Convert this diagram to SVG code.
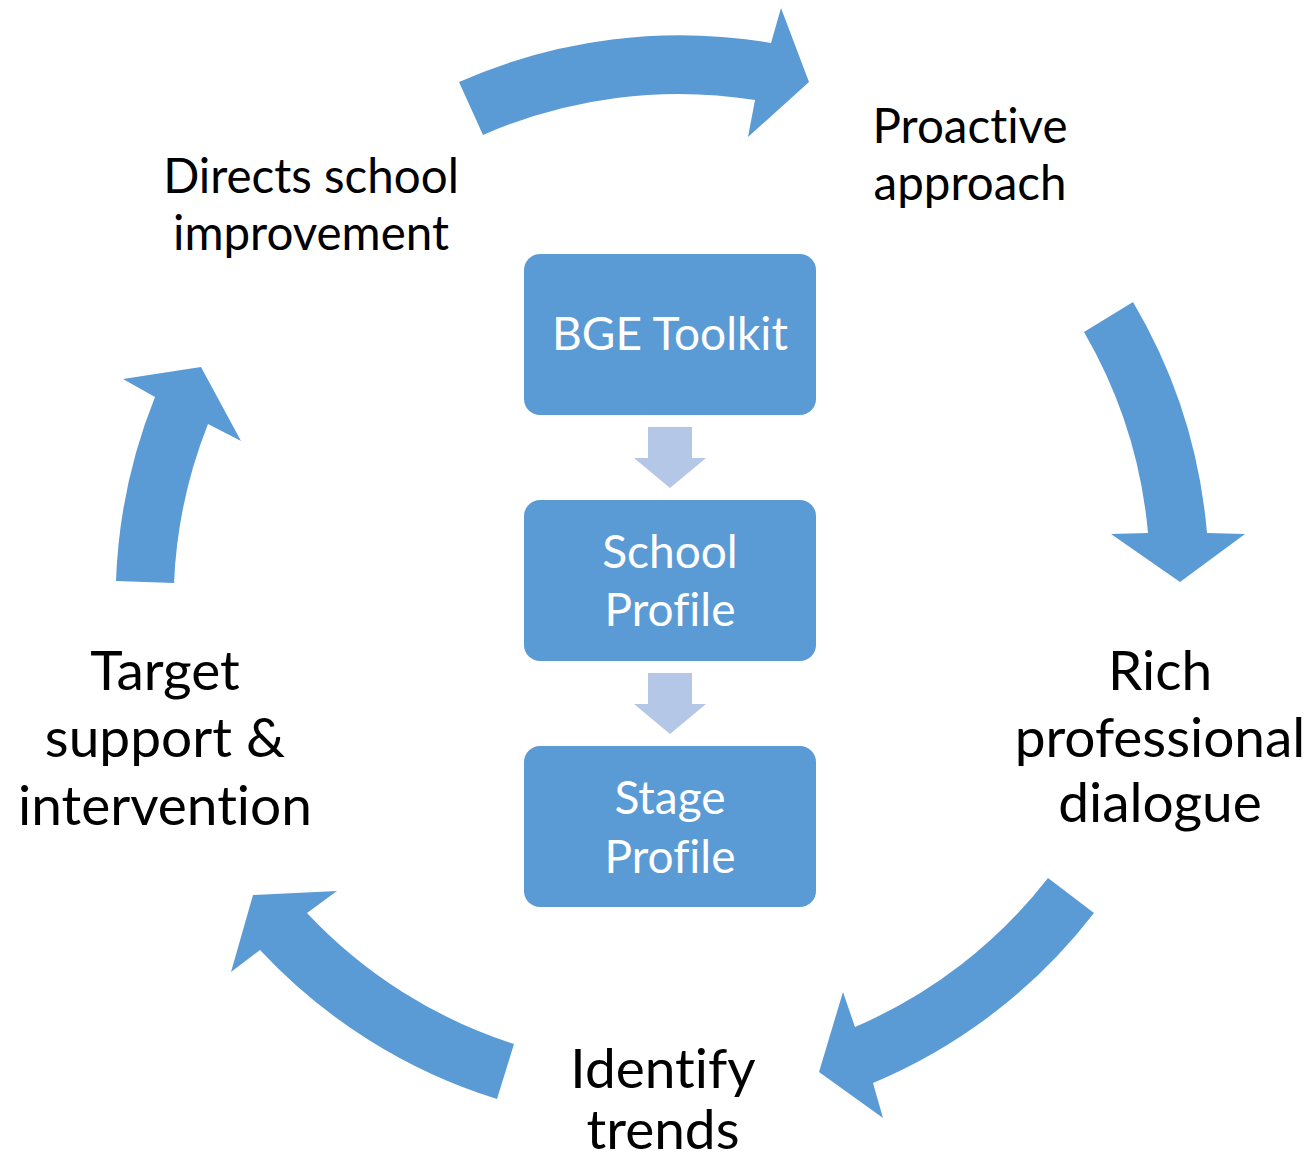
<svg xmlns="http://www.w3.org/2000/svg" width="1313" height="1158" viewBox="0 0 1313 1158">
<style>
.big{fill:#5B9BD5}
.small{fill:#B4C7E7}
.box{fill:#5B9BD5}
text{font-variant-ligatures:none;font-feature-settings:"liga" 0,"clig" 0}
.bt{font-family:Lato,"Open Sans","Liberation Sans",sans-serif;fill:#FFFFFF;text-anchor:middle;font-size:46px}
.lt{font-family:Lato,"Open Sans","Liberation Sans",sans-serif;fill:#000000;text-anchor:middle}
.s1{font-size:47.5px}
.s2{font-size:55px}
</style>
<rect width="1313" height="1158" fill="#FFFFFF"/>
<g id="connectors">
<path class="big" d="M 459,82 A 545 545 0 0 1 771,43 L 781,8 L 809,82 L 748,137 L 755,100 A 487 487 0 0 0 483,135 Z"/>
<path class="big" d="M 1133,302 A 545 545 0 0 1 1207,533 L 1245,534 L 1180,582 L 1111,534 L 1148,533 A 487 487 0 0 0 1084,332 Z"/>
<path class="big" d="M 1094,913 A 545 545 0 0 1 873,1083 L 883,1118 L 819,1072 L 843,992 L 855,1027 A 487 487 0 0 0 1048,878 Z"/>
<path class="big" d="M 497,1099 A 545 545 0 0 1 260,950 L 231,972 L 253,895 L 337,891 L 307,913 A 487 487 0 0 0 514,1044 Z"/>
<path class="big" d="M 116,581 A 545 545 0 0 1 155,397 L 123,379 L 201,367 L 241,441 L 208,424 A 487 487 0 0 0 174,583 Z"/>
<path class="small" d="M 648,427 L 692,427 L 692,458 L 706,458 L 670,488 L 634,458 L 648,458 Z"/>
<path class="small" d="M 648,673 L 692,673 L 692,704 L 706,704 L 670,734 L 634,704 L 648,704 Z"/>
</g>
<g id="bge-toolkit">
<rect class="box" x="524" y="254" width="292" height="161" rx="16"/>
<text class="bt" x="670" y="350">BGE Toolkit</text>
</g>
<g id="school-profile">
<rect class="box" x="524" y="500" width="292" height="161" rx="16"/>
<text class="bt" x="670" y="568">School</text>
<text class="bt" x="670" y="626">Profile</text>
</g>
<g id="stage-profile">
<rect class="box" x="524" y="746" width="292" height="161" rx="16"/>
<text class="bt" x="670" y="814">Stage</text>
<text class="bt" x="670" y="873">Profile</text>
</g>
<g id="directs">
<text class="lt s1" x="311" y="193">Directs school</text>
<text class="lt s1" x="311" y="250">improvement</text>
</g>
<g id="proactive">
<text class="lt s1" x="970" y="143">Proactive</text>
<text class="lt s1" x="970" y="200">approach</text>
</g>
<g id="rich">
<text class="lt s2" x="1160" y="690">Rich</text>
<text class="lt s2" x="1160" y="757">professional</text>
<text class="lt s2" x="1160" y="822">dialogue</text>
</g>
<g id="identify">
<text class="lt s2" x="663" y="1088">Identify</text>
<text class="lt s2" x="663" y="1149">trends</text>
</g>
<g id="target">
<text class="lt s2" x="165" y="690">Target</text>
<text class="lt s2" x="165" y="757">support &amp;</text>
<text class="lt s2" x="165" y="825">intervention</text>
</g>
</svg>
